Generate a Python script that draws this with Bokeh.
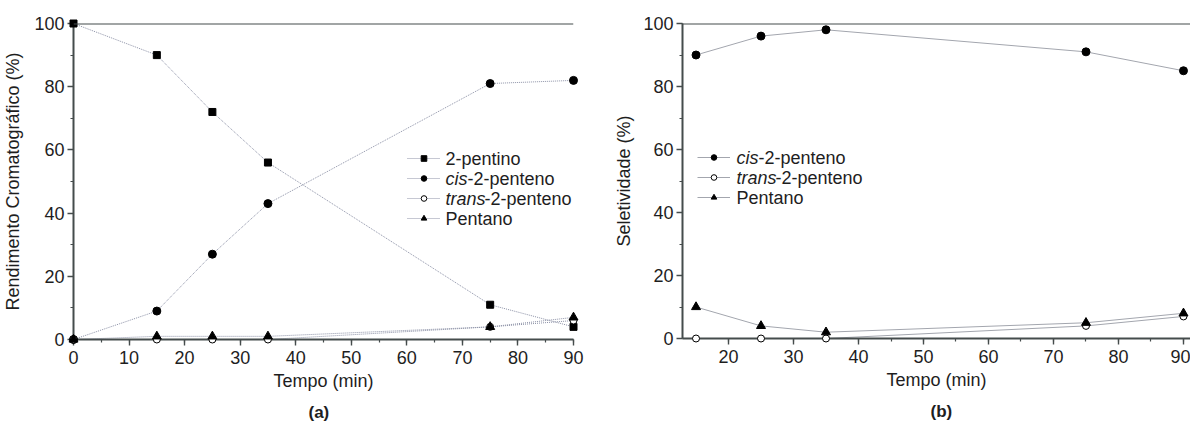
from bokeh.plotting import figure
from bokeh.layouts import row
from bokeh.models import (Range1d, SingleIntervalTicker, Span, Title,
                          Legend, LegendItem, Label)
from bokeh.embed import file_html
from bokeh.resources import INLINE

# ---------------- data ----------------
tempo_a = [0, 15, 25, 35, 75, 90]
pentino_a = [100, 90, 72, 56, 11, 4]
cis_a = [0, 9, 27, 43, 81, 82]
trans_a = [0, 0, 0, 0, 4, 6]
pentano_a = [0, 1, 1, 1, 4, 7]

tempo_b = [15, 25, 35, 75, 90]
cis_b = [90, 96, 98, 91, 85]
trans_b = [0, 0, 0, 4, 7]
pentano_b = [10, 4, 2, 5, 8]

FONT = "Liberation Sans"
AX = "#454c4c"
TXT = "#1e1e1e"


def style_axes(p, xticker, yticker, ylabel, ylabel_standoff, panel_tag, tag_offset):
    p.xaxis.ticker = xticker
    p.yaxis.ticker = yticker
    p.xaxis.axis_label = "Tempo (min)"
    p.yaxis.axis_label = ylabel
    for ax in (p.xaxis[0], p.yaxis[0]):
        ax.axis_line_color = AX
        ax.axis_line_width = 2
        ax.major_tick_line_color = AX
        ax.minor_tick_line_color = AX
        ax.major_tick_line_width = 1.4
        ax.minor_tick_line_width = 1.2
        ax.major_tick_in = 0
        ax.major_tick_out = 6
        ax.minor_tick_in = 0
        ax.minor_tick_out = 3
        ax.major_label_text_font = FONT
        ax.major_label_text_font_size = "18px"
        ax.major_label_text_color = TXT
        ax.axis_label_text_font = FONT
        ax.axis_label_text_font_size = "18px"
        ax.axis_label_text_font_style = "normal"
        ax.axis_label_text_color = TXT
    p.xaxis.major_label_standoff = 5
    p.xaxis.axis_label_standoff = 4
    p.yaxis.major_label_standoff = 3
    p.yaxis.axis_label_standoff = ylabel_standoff
    p.add_layout(Span(location=100, dimension="width", line_color=AX,
                      line_width=2, level="overlay"))
    p.add_layout(Title(text=panel_tag, align="left", offset=tag_offset,
                       standoff=14, text_font=FONT, text_font_size="17px",
                       text_font_style="bold", text_color=TXT), "below")
    p.xgrid.visible = False
    p.ygrid.visible = False
    p.outline_line_color = None


def add_text(p, x, y, text, style="normal", size="18px", align="left"):
    p.add_layout(Label(x=x, y=y, x_units="screen", y_units="screen", text=text,
                       text_font=FONT, text_font_size=size, text_font_style=style,
                       text_color=TXT, text_baseline="middle", text_align=align,
                       level="overlay"))


# ---------------- panel (a) ----------------
pa = figure(frame_width=500, frame_height=316, min_border_left=73,
            min_border_right=34, min_border_top=23, min_border_bottom=86,
            x_range=Range1d(0, 90), y_range=Range1d(0, 100),
            output_backend="svg", toolbar_location=None)
style_axes(pa, SingleIntervalTicker(interval=10, num_minor_ticks=2),
           SingleIntervalTicker(interval=20, num_minor_ticks=2),
           "Rendimento Cromatográfico (%)", 8, "(a)", 235)

lc = "#8c91a6"
la = dict(line_color=lc, line_width=1, line_dash="1 1")
l1 = pa.line(tempo_a, pentino_a, **la)
l2 = pa.line(tempo_a, cis_a, **la)
l3 = pa.line(tempo_a, trans_a, **la)
l4 = pa.line(tempo_a, pentano_a, **la)
s1 = pa.scatter(tempo_a, pentino_a, marker="square", size=7, color="black", level="overlay")
s2 = pa.scatter(tempo_a, cis_a, marker="circle", size=8, color="black", level="overlay")
s3 = pa.scatter(tempo_a, trans_a, marker="circle", size=7, fill_color="white",
                line_color="black", line_width=1, level="overlay")
s4 = pa.scatter(tempo_a, pentano_a, marker="triangle", size=9, color="black", level="overlay")

leg_a = Legend(items=[LegendItem(label=" ", renderers=[l1, s1]),
                      LegendItem(label=" ", renderers=[l2, s2]),
                      LegendItem(label=" ", renderers=[l3, s3]),
                      LegendItem(label=" ", renderers=[l4, s4])],
               location=(334, 114), glyph_width=33, glyph_height=14,
               label_height=14, label_width=1, spacing=6, padding=0, margin=0,
               label_text_font_size="6px", border_line_color=None,
               background_fill_alpha=0)
pa.add_layout(leg_a, "center")

ya = [181, 161, 141, 121]
xa = 372
add_text(pa, xa, ya[0], "2-pentino")
add_text(pa, xa, ya[1], "cis", style="italic")
add_text(pa, xa + 22, ya[1], "-2-penteno")
add_text(pa, xa, ya[2], "trans", style="italic")
add_text(pa, xa + 39, ya[2], "-2-penteno")
add_text(pa, xa, ya[3], "Pentano")

# ---------------- panel (b) ----------------
pb = figure(frame_width=508, frame_height=315, min_border_left=75,
            min_border_right=0, min_border_top=23, min_border_bottom=86,
            x_range=Range1d(12.92, 91.08), y_range=Range1d(0, 100),
            output_backend="svg", toolbar_location=None)
style_axes(pb, SingleIntervalTicker(interval=10, num_minor_ticks=2),
           SingleIntervalTicker(interval=20, num_minor_ticks=2),
           "Seletividade (%)", 6, "(b)", 248)

lb = dict(line_color="#a3a6ae", line_width=1)
m1 = pb.line(tempo_b, cis_b, **lb)
m2 = pb.line(tempo_b, trans_b, **lb)
m3 = pb.line(tempo_b, pentano_b, **lb)
t1 = pb.scatter(tempo_b, cis_b, marker="circle", size=8, color="black", level="overlay")
t2 = pb.scatter(tempo_b, trans_b, marker="circle", size=7, fill_color="white",
                line_color="black", line_width=1, level="overlay")
t3 = pb.scatter(tempo_b, pentano_b, marker="triangle", size=9, color="black", level="overlay")

leg_b = Legend(items=[LegendItem(label=" ", renderers=[m1, t1]),
                      LegendItem(label=" ", renderers=[m2, t2]),
                      LegendItem(label=" ", renderers=[m3, t3])],
               location=(15, 134), glyph_width=33, glyph_height=14,
               label_height=14, label_width=1, spacing=6, padding=0, margin=0,
               label_text_font_size="6px", border_line_color=None,
               background_fill_alpha=0)
pb.add_layout(leg_b, "center")

yb = [181, 161, 141]
xb = 54
add_text(pb, xb, yb[0], "cis", style="italic")
add_text(pb, xb + 22, yb[0], "-2-penteno")
add_text(pb, xb, yb[1], "trans", style="italic")
add_text(pb, xb + 39, yb[1], "-2-penteno")
add_text(pb, xb, yb[2], "Pentano")

layout = row(pa, pb)
open("out.html", "w").write(file_html(layout, INLINE))
